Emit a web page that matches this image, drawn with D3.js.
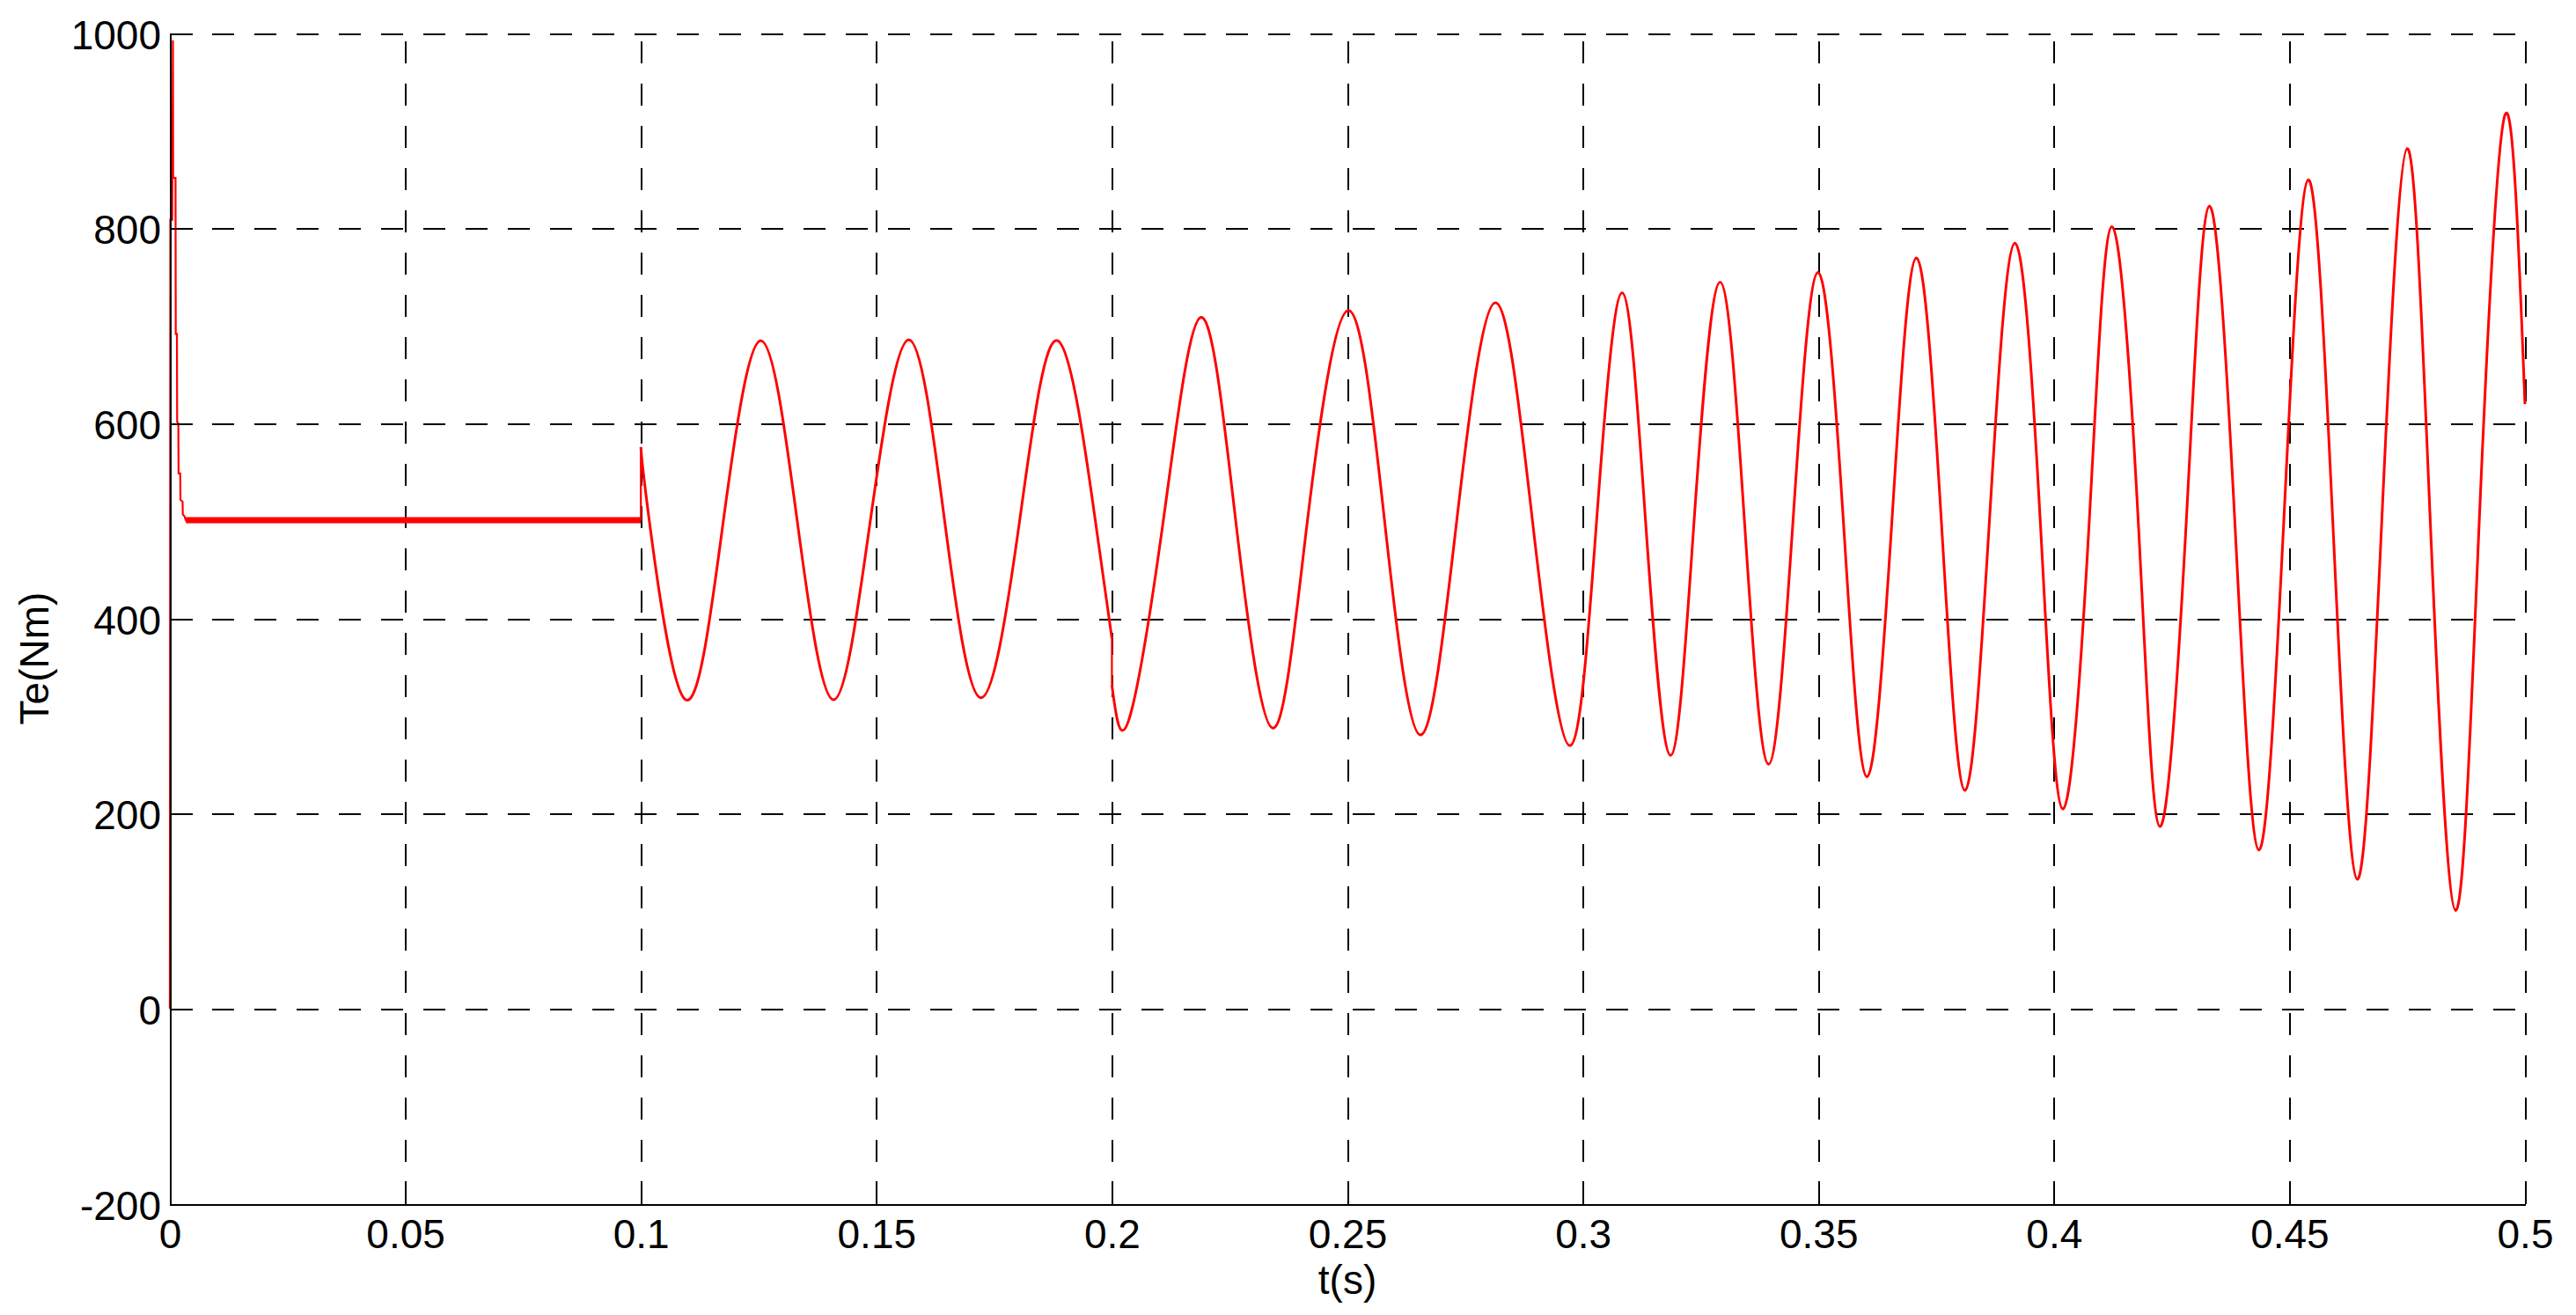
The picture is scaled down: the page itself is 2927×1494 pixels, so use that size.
<!DOCTYPE html>
<html>
<head>
<meta charset="utf-8">
<script src="https://cdn.jsdelivr.net/npm/d3@7"></script>
<style>
  body { margin: 0; background: #fff; }
  text { font-family: "Liberation Sans", Arial, sans-serif; }
</style>
</head>
<body>
<div id="chart"></div>
<script>
const w = 2927;
const h = 1494;
const margin = {top: 38, right: 58, bottom: 126, left: 193};
const width = w - margin.left - margin.right;
const height = h - margin.top - margin.bottom;

// axis ticks
const xTicks = [0, 0.05, 0.1, 0.15, 0.2, 0.25, 0.3, 0.35, 0.4, 0.45, 0.5];
const xTickLabels = ['0', '0.05', '0.1', '0.15', '0.2', '0.25', '0.3', '0.35', '0.4', '0.45', '0.5'];
const yTicks = [-200, 0, 200, 400, 600, 800, 1000];

// start-up transient and steady 500 Nm until the load step at 0.1 s
const startT  = [0, 0.0001, 0.0005, 0.00065, 0.0007, 0.0012, 0.00125, 0.0015, 0.00155, 0.0018, 0.00185, 0.0022, 0.00225, 0.0027, 0.00275, 0.0031, 0.0034, 0.1];
const startTe = [0, 809, 809, 993, 852, 852, 692, 692, 602, 600, 549, 549, 522, 520, 507, 505, 501, 501];

// oscillation 0.1 .. 0.2 s (peaks, troughs, mean crossings)
const osc1T  = [0.1, 0.1018, 0.1095, 0.1175, 0.1255, 0.1332, 0.1409, 0.1487, 0.1569, 0.1645, 0.1722, 0.1804, 0.1885, 0.1965, 0.2];
const osc1Te = [576, 500, 317, 500, 685, 500, 317, 500, 686, 500, 319, 500, 685, 500, 380];

// oscillation 0.2 .. 0.5 s
const osc2T  = [0.2, 0.2035, 0.2109, 0.2189, 0.2263, 0.2342, 0.2415, 0.2502, 0.2579, 0.2655, 0.2732, 0.2814, 0.2893, 0.2972,
                0.3029, 0.3083, 0.3133, 0.3186, 0.3236, 0.3291, 0.3343, 0.3394, 0.3446, 0.3499, 0.3553, 0.3603, 0.3656, 0.3708,
                0.3761, 0.3811, 0.3863, 0.3917, 0.3971, 0.4019, 0.4075, 0.4123, 0.4179, 0.4225, 0.4281, 0.4330, 0.4384, 0.4435,
                0.4488, 0.4540, 0.4592, 0.4644, 0.4696, 0.4750, 0.4799, 0.4853, 0.4903, 0.4958, 0.5];
const osc2Te = [332, 295, 500, 709, 500, 288, 500, 716, 500, 281, 500, 724, 500, 270,
                500, 734, 500, 260, 500, 745, 500, 251, 500, 755, 500, 238, 500, 770,
                500, 224, 500, 785, 500, 205, 500, 802, 500, 187, 500, 823, 500, 163,
                500, 850, 500, 133, 500, 882, 500, 101, 500, 917, 620];

const zip = (a, b) => a.map((t, i) => [t, b[i]]);
const startPts = zip(startT, startTe);
const osc1Pts = zip(osc1T, osc1Te);
const osc2Pts = zip(osc2T, osc2Te);

const xScale = d3.scaleLinear().domain([0, 0.5]).range([0, width]);
const yScale = d3.scaleLinear().domain([-200, 1000]).range([height, 0]);

const svg = d3.select('#chart')
  .append('svg')
  .attr('width', w)
  .attr('height', h)
  .style('background', '#fff');

const g = svg.append('g')
  .attr('transform', `translate(${margin.left},${margin.top})`);

// dashed grid
const xGrid = d3.axisBottom(xScale).tickValues(xTicks.slice(1)).tickSize(-height).tickFormat('');
const yGrid = d3.axisLeft(yScale).tickValues(yTicks.slice(1)).tickSize(-width).tickFormat('');

g.append('g')
  .attr('transform', `translate(0,${height})`)
  .call(xGrid)
  .call(s => s.select('.domain').remove())
  .selectAll('line')
  .attr('stroke', '#000')
  .attr('stroke-width', 2)
  .attr('shape-rendering', 'crispEdges')
  .attr('stroke-dasharray', '25,23');

g.append('g')
  .call(yGrid)
  .call(s => s.select('.domain').remove())
  .selectAll('line')
  .attr('stroke', '#000')
  .attr('stroke-width', 2)
  .attr('shape-rendering', 'crispEdges')
  .attr('stroke-dasharray', '25,23');

// data
const line = d3.line().x(d => xScale(d[0])).y(d => yScale(d[1]));
const smooth = d3.line().x(d => xScale(d[0])).y(d => yScale(d[1])).curve(d3.curveNatural);

const plot = g.append('g');

plot.append('path')
  .datum(startPts)
  .attr('d', line)
  .attr('fill', 'none')
  .attr('stroke', '#ff0000')
  .attr('stroke-width', 2.2);

// noisy steady band
plot.append('path')
  .datum(startPts.filter(d => d[0] >= 0.0034))
  .attr('d', line)
  .attr('fill', 'none')
  .attr('stroke', '#ff0000')
  .attr('stroke-width', 7);

[osc1Pts, osc2Pts].forEach(pts => {
  plot.append('path')
    .datum(pts)
    .attr('d', smooth)
    .attr('fill', 'none')
    .attr('stroke', '#ff0000')
    .attr('stroke-width', 3);
});

// vertical steps between segments
const segs = [startPts, osc1Pts, osc2Pts];
for (let i = 0; i < segs.length - 1; i++) {
  plot.append('path')
    .datum([segs[i][segs[i].length - 1], segs[i + 1][0]])
    .attr('d', line)
    .attr('fill', 'none')
    .attr('stroke', '#ff0000')
    .attr('stroke-width', 2.2);
}

// axes
const xAxis = d3.axisBottom(xScale)
  .tickValues(xTicks)
  .tickSize(-26)
  .tickSizeOuter(0)
  .tickPadding(17)
  .tickFormat((d, i) => xTickLabels[i]);

const yAxis = d3.axisLeft(yScale)
  .tickValues(yTicks)
  .tickSize(-26)
  .tickSizeOuter(0)
  .tickPadding(10)
  .tickFormat(d => String(d));

const gx = g.append('g')
  .attr('transform', `translate(0,${height})`)
  .call(xAxis);

const gy = g.append('g')
  .call(yAxis);

[gx, gy].forEach(a => {
  a.select('.domain').attr('stroke', '#000').attr('stroke-width', 2).attr('shape-rendering', 'crispEdges');
  a.selectAll('.tick line').attr('stroke', '#000').attr('stroke-width', 2).attr('shape-rendering', 'crispEdges');
  a.selectAll('text')
    .attr('fill', '#000')
    .style('font-size', '46px')
    .style('font-family', '"Liberation Sans", Arial, sans-serif');
});
gy.selectAll('text').attr('dy', '0.37em');

// axis titles
g.append('text')
  .attr('x', width / 2)
  .attr('y', height + 102)
  .attr('text-anchor', 'middle')
  .style('font-size', '46px')
  .text('t(s)');

svg.append('text')
  .attr('transform', `translate(55,${(margin.top + margin.top + height) / 2 + 45}) rotate(-90)`)
  .attr('text-anchor', 'middle')
  .style('font-size', '46px')
  .text('Te(Nm)');
</script>
</body>
</html>
